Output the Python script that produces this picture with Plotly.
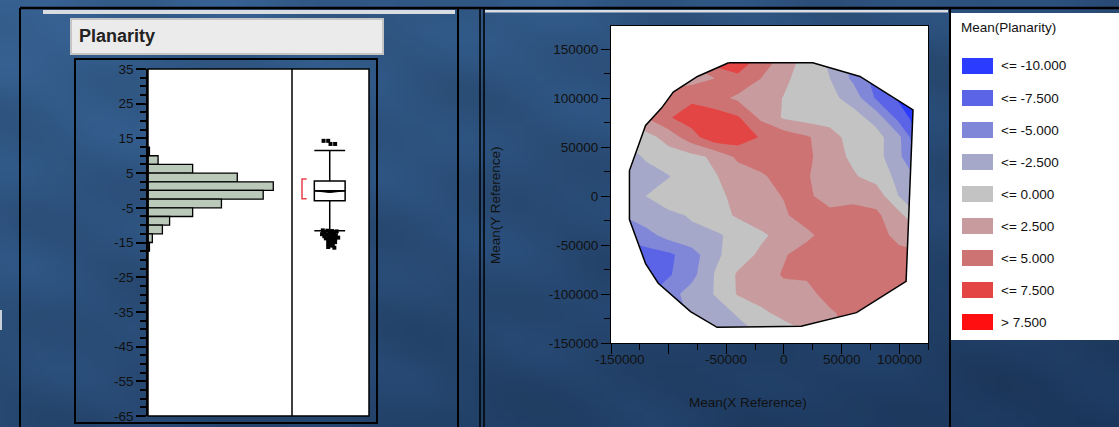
import base64
import struct
import zlib

import numpy as np
import plotly.graph_objects as go

W, H = 1119, 427
FONT = "Liberation Sans, Arial, sans-serif"


def fx(px):
    return px / W


def fy(py):
    return 1 - py / H


# ---------------- Planarity distribution ----------------
bin_centers = [11.25, 8.75, 6.25, 3.75, 1.25, -1.25, -3.75, -6.25, -8.75, -11.25, -13.75, -16.25]
bin_counts = [1, 7, 31, 62, 87, 80, 51, 31, 15, 10, 3, 1]
bin_width = 2.5

box_q1 = -3.0
box_median = -0.1
box_q3 = 2.7
whisker_low = -11.6
whisker_high = 11.5
mean_ci = (-0.6, -0.1)
shortest_half = (-2.4, 3.3)

outliers_hi = [14.3, 14.3, 13.4, 13.4]
outliers_hi_pos = [0.41, 0.47, 0.50, 0.56]
outliers_lo = [-11.5, -11.6, -11.7, -11.8, -12.1, -12.2, -12.3, -12.6, -12.7, -12.8, -12.9,
               -13.2, -13.3, -13.4, -13.6, -13.8, -13.9, -14.0, -14.3, -14.4, -14.8, -14.9,
               -15.3, -15.4, -15.9, -16.3, -16.5]
outliers_lo_pos = [0.40, 0.46, 0.52, 0.58, 0.42, 0.49, 0.55, 0.39, 0.45, 0.51, 0.57,
                   0.42, 0.48, 0.54, 0.60, 0.44, 0.50, 0.56, 0.47, 0.53, 0.50, 0.56,
                   0.47, 0.53, 0.52, 0.47, 0.55]

hist_ticks = [35, 25, 15, 5, -5, -15, -25, -35, -45, -55, -65]

# ---------------- Mean(Planarity) over the reference plane ----------------
grid_x = [-140000, -120000, -100000, -80000, -60000, -40000, -20000,
          0, 20000, 40000, 60000, 80000, 100000, 120000]
grid_y = [140000, 120000, 100000, 80000, 60000, 40000, 20000, 0,
          -20000, -40000, -60000, -80000, -100000, -120000, -140000]
grid_z = [
    [-2, 0, 2, 3, 6.8, 6.5, 4.5, 1.5, -1, -3, -6, -8.5, -11, -12],
    [-2, -1, 1, 1.5, 2.5, 4.5, 2.5, 0.5, -1.2, -2.5, -5.5, -8.5, -11, -12],
    [0, 3, 4, 4.5, 3.5, 2, 1.2, -0.1, -1, -1.8, -3.5, -7.8, -10.5, -12],
    [-1, 2.5, 4.8, 6.2, 6.2, 5.3, 2.0, -0.3, -1, -1, -1.5, -3.5, -8.5, -12],
    [-2, -1, 1, 4, 6.8, 6.5, 4.8, 4, 2.8, 1, -1, -1.5, -4.5, -11],
    [-4, -2.2, -1.2, -0.8, 0.5, 3, 4.2, 4, 3, 1.2, -0.5, -1.5, -4.5, -9],
    [-4.5, -3.5, -2.6, -1.2, -0.2, 1.2, 2, 3.8, 2.7, 1.2, 0.3, -1, -3.2, -6],
    [-5, -2.5, -1.3, -1, -0.8, 0.8, 1.8, 2.6, 2.8, 1.8, 2, 1.5, -2.6, -5],
    [-5, -3.5, -3, -2.3, -1, 0.3, 1.5, 2.2, 3.5, 3.0, 3.2, 3.0, 0.8, -3],
    [-7, -6, -4, -3, -2.9, -1.8, -0.5, 1.0, 2.0, 3.5, 4, 3.8, 1.5, 0],
    [-9, -8.5, -8, -6.2, -3, -1.3, 0.5, 2.3, 3.5, 4.2, 4.5, 4.5, 3.5, 3],
    [-9, -8.8, -7.8, -5.8, -2.4, 0.3, 1.5, 2.7, 2.7, 3.8, 4.5, 4.5, 4, 3.5],
    [-9, -8, -6, -4, -2.4, 0.2, 1.3, 1.8, 2.1, 3.0, 4, 3.5, 3, 3],
    [-9, -8, -6.5, -4.5, -3.5, -2.3, -0.7, 0.8, 1.3, 2.3, 3, 3, 3, 3],
    [-9, -8, -6, -4.5, -3.5, -3.3, -2.3, -1.5, -0.1, 2, 3, 3, 3, 3],
]

# boundary of the measured region (convex hull of the sample locations)
hull_x = [-48000, 25000, 66000, 112000, 106000, 63000, 15000, -58000, -81000,
          -109000, -120000, -134000, -134000, -120000, -106000, -96000, -75000]
hull_y = [136000, 136000, 122000, 88000, -87000, -119000, -133000, -134000, -118000,
          -89000, -69000, -24000, 26000, 72000, 90000, 106000, 122000]

level_start, level_end, level_step = -10.0, 7.5, 2.5
band_labels = ["<= -10.000", "<= -7.500", "<= -5.000", "<= -2.500", "<= 0.000",
               "<= 2.500", "<= 5.000", "<= 7.500", "> 7.500"]
band_colors = ["#2B3BFF", "#5B64E7", "#8187D8", "#A6A8CA", "#C3C3C3",
               "#C89C9E", "#CE7373", "#E34545", "#FF0F0F"]

x_ticks = [-150000, -100000, -50000, 0, 50000, 100000]
x_ticktext = ["-150000", "", "-50000", "0", "50000", "100000"]
x_minor = [-125000, -75000, -25000, 25000, 75000, 125000]
y_ticks = [-150000, -100000, -50000, 0, 50000, 100000, 150000]
y_minor = [-125000, -75000, -25000, 25000, 75000, 125000]


# ---------------- background texture ----------------
def png_uri(rgb):
    h, w, _ = rgb.shape
    raw = b"".join(b"\x00" + rgb[i].tobytes() for i in range(h))

    def chunk(tag, data):
        body = tag + data
        return struct.pack(">I", len(data)) + body + struct.pack(">I", zlib.crc32(body) & 0xFFFFFFFF)

    png = (b"\x89PNG\r\n\x1a\n"
           + chunk(b"IHDR", struct.pack(">IIBBBBB", w, h, 8, 2, 0, 0, 0))
           + chunk(b"IDAT", zlib.compress(raw, 9))
           + chunk(b"IEND", b""))
    return "data:image/png;base64," + base64.b64encode(png).decode()


tw, th = 112, 43
u, v = np.meshgrid(np.linspace(0, 1, tw), np.linspace(0, 1, th))
t = np.clip(0.45 * u + 0.55 * v, 0, 1)
mottle = (np.sin(u * 23 + v * 7) * np.sin(v * 17 - u * 5) + 0.6 * np.sin(u * 41 - v * 29)) * 0.045
top = np.array([54, 96, 143])
bottom = np.array([28, 55, 92])
tex = top[None, None, :] * (1 - t[..., None]) + bottom[None, None, :] * t[..., None]
tex = tex * (1 + mottle[..., None])
tex = np.clip(tex, 0, 255).astype(np.uint8)
bg_uri = png_uri(tex)

fig = go.Figure()

# histogram
fig.add_trace(go.Bar(
    x=bin_counts, y=bin_centers, width=bin_width, orientation="h",
    marker=dict(color="#BBC9BA", line=dict(color="black", width=1.3)),
    xaxis="x2", yaxis="y2", hoverinfo="skip", showlegend=False,
))

# outlier box plot
fig.add_trace(go.Box(
    x=[0.49], q1=[box_q1], median=[box_median], q3=[box_q3],
    lowerfence=[whisker_low], upperfence=[whisker_high],
    width=0.4, whiskerwidth=1, fillcolor="white",
    line=dict(color="black", width=1.5), boxpoints=False,
    xaxis="x3", yaxis="y2", hoverinfo="skip", showlegend=False,
))
# mean diamond
fig.add_trace(go.Scatter(
    x=[0.29, 0.49, 0.69, 0.29],
    y=[mean_ci[1], mean_ci[0], mean_ci[1], mean_ci[1]],
    mode="lines", fill="toself", fillcolor="black", line=dict(color="black", width=1),
    xaxis="x3", yaxis="y2", hoverinfo="skip", showlegend=False,
))
fig.add_trace(go.Scatter(
    x=outliers_hi_pos + outliers_lo_pos, y=outliers_hi + outliers_lo,
    mode="markers", marker=dict(symbol="square", size=4, color="black"),
    xaxis="x3", yaxis="y2", hoverinfo="skip", showlegend=False,
))
# shortest half bracket
fig.add_trace(go.Scatter(
    x=[0.19, 0.13, 0.13, 0.19], y=[shortest_half[1], shortest_half[1], shortest_half[0], shortest_half[0]],
    mode="lines", line=dict(color="#E8404F", width=1.5),
    xaxis="x3", yaxis="y2", hoverinfo="skip", showlegend=False,
))

# contour map
n_levels = int(round((level_end - level_start) / level_step)) + 1
colorscale = [[i / n_levels, c] for i, c in enumerate(band_colors)]
fig.add_trace(go.Contour(
    x=grid_x, y=grid_y[::-1], z=grid_z[::-1],
    autocontour=False,
    contours=dict(start=level_start, end=level_end, size=level_step, coloring="fill", showlines=False),
    line=dict(width=0, smoothing=0),
    colorscale=colorscale, showscale=False, hoverinfo="skip",
    xaxis="x", yaxis="y",
))

# white outside the sampled region
ox = [-160000, -160000, 130000, 130000, -160000]
oy = [185000, -160000, -160000, 185000, 185000]
fig.add_trace(go.Scatter(
    x=ox + hull_x + [hull_x[0], ox[0]], y=oy + hull_y + [hull_y[0], oy[0]],
    mode="lines", fill="toself", fillcolor="white", line=dict(width=0, color="white"),
    xaxis="x", yaxis="y", hoverinfo="skip", showlegend=False,
))
fig.add_trace(go.Scatter(
    x=hull_x + [hull_x[0]], y=hull_y + [hull_y[0]],
    mode="lines", line=dict(color="black", width=1.5),
    xaxis="x", yaxis="y", hoverinfo="skip", showlegend=False,
))

tickfont = dict(family=FONT, size=13.5, color="#111111")
hist_minor = [v for v in np.arange(-65, 35.01, 2.5).tolist() if v not in hist_ticks]

fig.update_layout(
    template="none",
    width=W, height=H, autosize=False,
    margin=dict(l=0, r=0, t=0, b=0, pad=0, autoexpand=False),
    paper_bgcolor="#2A4F7E", plot_bgcolor="white",
    showlegend=False,
    xaxis=dict(
        domain=[fx(611), fx(928)], range=[-150000, 125000], anchor="y", automargin=False,
        showgrid=False, zeroline=False, showline=True, linecolor="black", linewidth=1, mirror=True,
        ticks="outside", ticklen=10, tickcolor="black", tickwidth=1,
        tickmode="array", tickvals=x_ticks, showticklabels=False,
        minor=dict(tickvals=x_minor, ticks="outside", ticklen=6, tickcolor="black", tickwidth=1),
    ),
    yaxis=dict(
        domain=[fy(343), fy(26)], range=[-150000, 173500], anchor="x", automargin=False,
        showgrid=False, zeroline=False, showline=True, linecolor="black", linewidth=1, mirror=True,
        ticks="outside", ticklen=9, tickcolor="black", tickwidth=1,
        tickmode="array", tickvals=y_ticks, ticktext=[str(v) for v in y_ticks], tickfont=tickfont,
        minor=dict(tickvals=y_minor, ticks="outside", ticklen=6, tickcolor="black", tickwidth=1),
    ),
    xaxis2=dict(domain=[fx(148), fx(292)], range=[0, 100], anchor="y2", automargin=False,
                visible=False, showgrid=False, zeroline=False),
    xaxis3=dict(domain=[fx(292), fx(369)], range=[0, 1], anchor="y2", automargin=False,
                visible=False, showgrid=False, zeroline=False),
    yaxis2=dict(
        domain=[fy(416), fy(69)], range=[-65, 35], anchor="x2", automargin=False,
        showgrid=False, zeroline=False, showline=True, linecolor="black", linewidth=1.5,
        ticks="outside", ticklen=10, tickcolor="black", tickwidth=1.5,
        tickmode="array", tickvals=hist_ticks, ticktext=[str(v) for v in hist_ticks], tickfont=tickfont,
        minor=dict(tickvals=hist_minor, ticks="outside", ticklen=6, tickcolor="black", tickwidth=1.5),
    ),
    images=[dict(source=bg_uri, xref="paper", yref="paper", x=0, y=1, sizex=1, sizey=1,
                 sizing="stretch", layer="below", xanchor="left", yanchor="top")],
)

shapes = []


def rect(x0, y0, x1, y1, fill=None, line="black", lw=1.0, layer="above"):
    shapes.append(dict(type="rect", xref="paper", yref="paper",
                       x0=fx(x0), x1=fx(x1), y0=fy(y1), y1=fy(y0),
                       fillcolor=fill if fill else "rgba(0,0,0,0)",
                       line=dict(color=line, width=lw), layer=layer))


def hline(x0, x1, y, color="black", lw=2):
    shapes.append(dict(type="line", xref="paper", yref="paper",
                       x0=fx(x0), x1=fx(x1), y0=fy(y), y1=fy(y),
                       line=dict(color=color, width=lw), layer="above"))


def vline(x, y0, y1, color="black", lw=2):
    shapes.append(dict(type="line", xref="paper", yref="paper",
                       x0=fx(x), x1=fx(x), y0=fy(y0), y1=fy(y1),
                       line=dict(color=color, width=lw), layer="above"))


# white plotting panels (drawn under the traces)
rect(148, 69, 369, 416, fill="white", line="white", lw=0, layer="below")
rect(611, 26, 928, 343, fill="white", line="white", lw=0, layer="below")

# window frame
hline(20, W, 8, lw=2.5)
vline(20, 8, H, lw=2)
vline(458, 8, H, lw=2)
vline(480, 8, H, lw=1.5)
vline(484, 8, H, lw=1.5)
vline(950, 8, H, lw=2)
rect(43, 10, 455, 14, fill="#D9DCE0", line="#D9DCE0", lw=0)
rect(485, 10, 948, 12.5, fill="#D9DCE0", line="#D9DCE0", lw=0)
rect(0, 310, 2, 330, fill="#C9D0D8", line="#C9D0D8", lw=0)

# histogram panel
rect(71, 19, 383, 54, fill="#EBEBEB", line="#C4C4C4", lw=2)
rect(75, 59, 377, 423, line="black", lw=2)
rect(148, 69, 369, 416, line="black", lw=1.5)
vline(292, 69, 416, lw=1.5)

# legend panel
rect(951, 13, W + 2, 340, fill="white", line="white", lw=0)
for i, c in enumerate(band_colors):
    cy = 66 + 32 * i
    rect(962, cy - 8, 993, cy + 8, fill=c, line=c, lw=0)

annotations = [
    dict(text="Planarity", x=fx(77), y=fy(36.5), xanchor="left", yanchor="middle",
         font=dict(family=FONT, size=18, color="#222222", weight="bold")),
    dict(text="Mean(Planarity)", x=fx(959), y=fy(28), xanchor="left", yanchor="middle",
         font=dict(family=FONT, size=13.5, color="#111111")),
    dict(text="Mean(Y Reference)", x=fx(495), y=fy(205), xanchor="center", yanchor="middle",
         textangle=-90, font=dict(family=FONT, size=13.5, color="#111111")),
    dict(text="Mean(X Reference)", x=fx(748), y=fy(402), xanchor="center", yanchor="middle",
         font=dict(family=FONT, size=13.5, color="#111111")),
]
for i, lab in enumerate(band_labels):
    annotations.append(dict(text=lab, x=fx(999), y=fy(66 + 32 * i), xanchor="left", yanchor="middle",
                            font=dict(family=FONT, size=13.5, color="#111111")))
for a in annotations:
    a.update(xref="paper", yref="paper", showarrow=False)

# x tick labels of the contour map (the first one is nudged inward)
for val, txt in zip(x_ticks, x_ticktext):
    if not txt:
        continue
    annotations.append(dict(text=txt, x=val, xref="x", y=fy(359), yref="paper",
                            xanchor="center", yanchor="middle", showarrow=False,
                            xshift=9 if val == x_ticks[0] else 0,
                            font=dict(family=FONT, size=13.5, color="#111111")))

fig.update_layout(shapes=shapes, annotations=annotations)
fig.write_html("out.html", config={"responsive": False, "displayModeBar": False},
               post_script="document.body.style.margin='0px';document.body.style.overflow='hidden';")
